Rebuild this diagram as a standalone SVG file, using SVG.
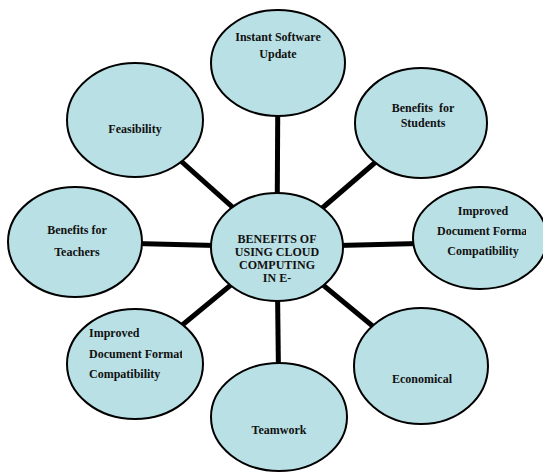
<svg xmlns="http://www.w3.org/2000/svg" width="543" height="472" viewBox="0 0 543 472">
<style>
.n{fill:#b9e0e4;stroke:#000;stroke-width:2}
.t{font-family:'Liberation Serif','DejaVu Serif',serif;font-weight:700;font-size:12px;fill:#111;text-anchor:middle;white-space:pre}
.l{text-anchor:start}
.c{stroke:#000;stroke-width:5;fill:none}
</style>
<defs>
<clipPath id="cr"><rect x="400" y="180" width="126" height="110"/></clipPath>
<clipPath id="cl"><rect x="60" y="300" width="122" height="110"/></clipPath>
</defs>
<rect width="543" height="472" fill="#fff"/>
<g id="connectors">
<line class="c" x1="277" y1="247" x2="278" y2="63"/>
<line class="c" x1="277" y1="247" x2="421" y2="123"/>
<line class="c" x1="277" y1="247" x2="480" y2="242"/>
<line class="c" x1="277" y1="247" x2="421" y2="366"/>
<line class="c" x1="277" y1="247" x2="279" y2="417"/>
<line class="c" x1="277" y1="247" x2="135" y2="364"/>
<line class="c" x1="277" y1="247" x2="75" y2="242"/>
<line class="c" x1="277" y1="247" x2="135" y2="120"/>
</g>
<g id="node-update">
<ellipse class="n" cx="278" cy="63" rx="67" ry="53"/>
<text class="t" x="278" y="41">Instant Software</text>
<text class="t" x="278" y="58">Update</text>
</g>
<g id="node-students">
<ellipse class="n" cx="421" cy="123" rx="66" ry="55"/>
<text class="t" x="423" y="112">Benefits  for</text>
<text class="t" x="423" y="127">Students</text>
</g>
<g id="node-format-right">
<ellipse class="n" cx="480" cy="238" rx="67" ry="51"/>
<text class="t" x="483" y="215">Improved</text>
<text class="t l" x="437" y="235" clip-path="url(#cr)">Document Format</text>
<text class="t" x="483" y="255">Compatibility</text>
</g>
<g id="node-economical">
<ellipse class="n" cx="421" cy="366" rx="67" ry="58"/>
<text class="t" x="422" y="383">Economical</text>
</g>
<g id="node-teamwork">
<ellipse class="n" cx="279" cy="417" rx="68" ry="54"/>
<text class="t" x="279" y="434">Teamwork</text>
</g>
<g id="node-format-left">
<ellipse class="n" cx="135" cy="364" rx="68" ry="55"/>
<text class="t l" x="89" y="337">Improved</text>
<text class="t l" x="89" y="358" clip-path="url(#cl)">Document Format</text>
<text class="t l" x="89" y="378">Compatibility</text>
</g>
<g id="node-teachers">
<ellipse class="n" cx="75" cy="242" rx="67" ry="55"/>
<text class="t" x="77" y="234">Benefits for</text>
<text class="t" x="77" y="256">Teachers</text>
</g>
<g id="node-feasibility">
<ellipse class="n" cx="135" cy="120" rx="68" ry="57"/>
<text class="t" x="135" y="133">Feasibility</text>
</g>
<g id="node-center">
<ellipse class="n" cx="277" cy="247" rx="66" ry="54"/>
<text class="t" x="277" y="243">BENEFITS OF</text>
<text class="t" x="277" y="256">USING CLOUD</text>
<text class="t" x="277" y="269">COMPUTING</text>
<text class="t" x="277" y="282">IN E-</text>
</g>
</svg>
